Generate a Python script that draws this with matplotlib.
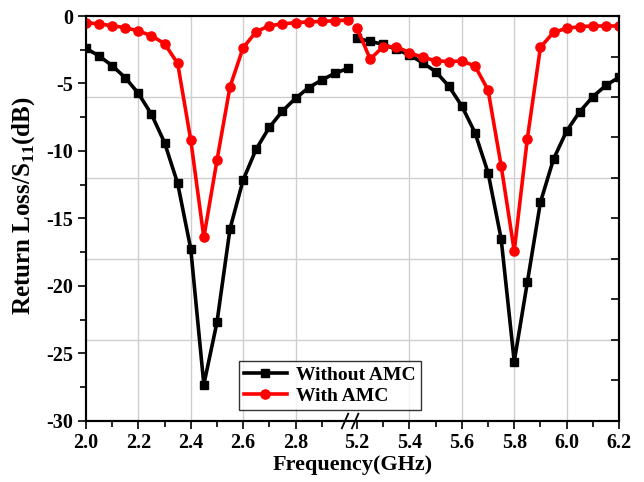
import numpy as np
import matplotlib
matplotlib.use("Agg")
import matplotlib.pyplot as plt
from matplotlib.ticker import FixedLocator, MultipleLocator

plt.rcParams["font.family"] = ["Liberation Serif", "DejaVu Serif"]
plt.rcParams["font.weight"] = "bold"
plt.rcParams["axes.unicode_minus"] = False
plt.rcParams["mathtext.fontset"] = "custom"
plt.rcParams["mathtext.rm"] = "Liberation Serif:bold"
plt.rcParams["mathtext.bf"] = "Liberation Serif:bold"

# frequencies (GHz), two bands
freq_lo = [2.00, 2.05, 2.10, 2.15, 2.20, 2.25, 2.30, 2.35, 2.40, 2.45, 2.50,
           2.55, 2.60, 2.65, 2.70, 2.75, 2.80, 2.85, 2.90, 2.95, 3.00]
freq_hi = [5.20, 5.25, 5.30, 5.35, 5.40, 5.45, 5.50, 5.55, 5.60, 5.65, 5.70,
           5.75, 5.80, 5.85, 5.90, 5.95, 6.00, 6.05, 6.10, 6.15, 6.20]

# S11 (dB)
without_lo = [-2.4, -2.96, -3.68, -4.57, -5.73, -7.28, -9.38, -12.4, -17.25, -27.3, -22.7,
              -15.75, -12.15, -9.85, -8.25, -7.04, -6.1, -5.31, -4.74, -4.25, -3.88]
without_hi = [-1.65, -1.88, -2.1, -2.47, -2.89, -3.46, -4.12, -5.19, -6.67, -8.64, -11.6,
              -16.5, -25.6, -19.73, -13.8, -10.6, -8.52, -7.09, -5.98, -5.14, -4.54]
with_lo = [-0.49, -0.59, -0.72, -0.86, -1.11, -1.46, -2.05, -3.51, -9.19, -16.4, -10.7,
           -5.23, -2.35, -1.16, -0.72, -0.59, -0.49, -0.44, -0.4, -0.35, -0.3]
with_hi = [-0.9, -3.19, -2.27, -2.27, -2.72, -3.06, -3.31, -3.38, -3.33, -3.7, -5.48,
           -11.09, -17.4, -9.09, -2.32, -1.21, -0.91, -0.79, -0.74, -0.74, -0.74]

major_x = [2.0, 2.2, 2.4, 2.6, 2.8, 5.2, 5.4, 5.6, 5.8, 6.0, 6.2]
minor_x = [2.1, 2.3, 2.5, 2.7, 2.9, 5.3, 5.5, 5.7, 5.9, 6.1]
grid_x = [2.2, 2.4, 2.6, 2.8, 5.4, 5.6, 5.8, 6.0]

# broken axis: 3.0..5.2 squeezed into a small gap
B0, B1, GAP = 3.0, 5.2, 0.035


def fwd(x):
    x = np.asarray(x, dtype=float)
    return np.where(x <= B0, x,
                    np.where(x >= B1, x - (B1 - B0) + GAP,
                             B0 + (x - B0) * GAP / (B1 - B0)))


def inv(u):
    u = np.asarray(u, dtype=float)
    return np.where(u <= B0, u,
                    np.where(u >= B0 + GAP, u + (B1 - B0) - GAP,
                             B0 + (u - B0) * (B1 - B0) / GAP))


fig = plt.figure(figsize=(6.44, 4.82), dpi=100)
ax = fig.add_axes([0.1335, 0.1266, 0.8277, 0.8402])
ax.set_xscale("function", functions=(fwd, inv))
ax.set_xlim(2.0, 6.2)
ax.set_ylim(-30, 0)

for gx in grid_x:
    ax.axvline(gx, color="#cfcfcf", lw=1.0, zorder=0)
for gy in (-6, -12, -18, -24):
    ax.axhline(gy, color="#cfcfcf", lw=1.0, zorder=0)

lw = 2.6
ax.plot(freq_lo, without_lo, color="black", lw=lw, marker="s", ms=5.6, label="Without AMC", zorder=3)
ax.plot(freq_hi, without_hi, color="black", lw=lw, marker="s", ms=5.6, zorder=3)
ax.plot(freq_lo, with_lo, color="#ff0000", lw=lw, marker="o", ms=6.6, label="With AMC", zorder=4)
ax.plot(freq_hi, with_hi, color="#ff0000", lw=lw, marker="o", ms=6.6, zorder=4)

ax.xaxis.set_major_locator(FixedLocator(major_x))
ax.xaxis.set_minor_locator(FixedLocator(minor_x))
ax.set_xticklabels(["%.1f" % v for v in major_x])
ax.yaxis.set_major_locator(MultipleLocator(5))
ax.yaxis.set_minor_locator(MultipleLocator(2.5))
ax.tick_params(axis="both", which="major", direction="out", length=6, width=1.2,
               labelsize=14.5, pad=3)
ax.tick_params(axis="both", which="minor", direction="out", length=4, width=1.2)
for lab in ax.get_xticklabels() + ax.get_yticklabels():
    lab.set_fontweight("bold")

# right side inward ticks every 3 dB
axr = ax.twinx()
axr.set_ylim(-30, 0)
axr.yaxis.set_major_locator(MultipleLocator(3))
axr.tick_params(axis="y", direction="in", length=6, width=1.2, labelright=False)

for a in (ax, axr):
    for s in a.spines.values():
        s.set_linewidth(1.5)

# break marks: two slashes on the bottom spine, a small tick on the top one
for xc in (0.486, 0.505):
    ax.plot([xc - 0.006, xc + 0.006], [-0.018, 0.018], transform=ax.transAxes,
            color="black", lw=1.3, clip_on=False, zorder=6)
ax.plot([0.499, 0.499], [0.985, 1.0], transform=ax.transAxes, color="black", lw=1.3,
        clip_on=False)

ax.set_xlabel("Frequency(GHz)", fontsize=16, fontweight="bold", labelpad=1)
ax.set_ylabel(r"Return Loss/S$_{\mathbf{11}}$(dB)", fontsize=18, fontweight="bold")
ax.yaxis.set_label_coords(-0.092, 0.532)

leg = ax.legend(loc="lower left", bbox_to_anchor=(0.287, 0.027), fontsize=14,
                frameon=True, fancybox=False, edgecolor="black", handlelength=2.2,
                borderpad=0.25, labelspacing=0.2, handletextpad=0.5, borderaxespad=0)
leg.get_frame().set_linewidth(1.0)
for t in leg.get_texts():
    t.set_fontweight("bold")

fig.savefig("out.png", dpi=100)
